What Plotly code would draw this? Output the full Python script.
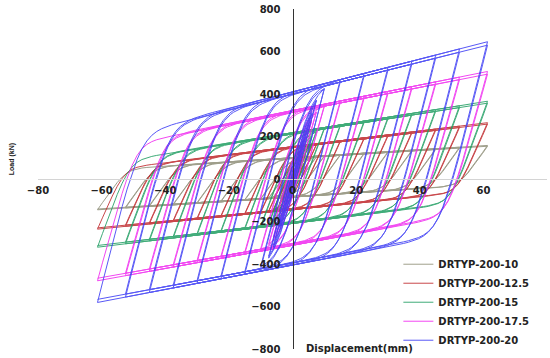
import numpy as np
import plotly.graph_objects as go

# Cyclic displacement protocol (mm), each amplitude applied twice
AMPLITUDES_MM = [2.0, 4.0, 6.0, 7.5, 10.0, 15.0, 22.5, 30.0, 37.5, 45.0, 52.5, 61.3]
CYCLE_STRENGTH = [1.0, 0.975]   # second cycle at the same amplitude is slightly weaker

SERIES = ["DRTYP-200-10", "DRTYP-200-12.5", "DRTYP-200-15", "DRTYP-200-17.5", "DRTYP-200-20"]
COLORS = ["#8f8f78", "#c0282c", "#1f9e62", "#f028f0", "#3c3cf5"]

# Elastic (unloading / reloading) stiffness, kN/mm
STIFFNESS = [22, 35, 42, 55, 60]
# Upper bounding line: load at 0 mm and at +61.3 mm (kN)
UPPER_AT_ZERO = [100, 152, 218, 322, 410]
UPPER_AT_MAX = [158, 265, 366, 506, 646]
# Lower bounding line: load at 0 mm and at -61.3 mm (kN)
LOWER_AT_ZERO = [-85, -144, -209, -312, -405]
LOWER_AT_MIN = [-145, -236, -321, -479, -581]
# Rounding of the yield knee (kN)
KNEE = [38, 58, 80, 110, 140]


def loop_path(k, u0, umax, l0, lmin, s, n=80):
    d_end = AMPLITUDES_MM[-1]
    us = (umax - u0) / d_end
    ls = (l0 - lmin) / d_end
    xs_all, ys_all = [0.0], [0.0]
    xc, yc = 0.0, 0.0
    for a in AMPLITUDES_MM:
        for f in CYCLE_STRENGTH:
            # loading towards +a, bounded by the upper line
            x = np.linspace(xc, a, n)
            e = yc + k * (x - xc)
            u = f * (u0 + us * x)
            y = -s * np.logaddexp(-e / s, -u / s)
            xs_all.extend(x[1:]); ys_all.extend(y[1:])
            xc, yc = a, y[-1]
            # loading towards -a, bounded by the lower line
            x = np.linspace(xc, -a, n)
            e = yc + k * (x - xc)
            lo = f * (l0 + ls * x)
            y = s * np.logaddexp(e / s, lo / s)
            xs_all.extend(x[1:]); ys_all.extend(y[1:])
            xc, yc = -a, y[-1]
    return np.array(xs_all), np.array(ys_all)


fig = go.Figure()
for i, name in enumerate(SERIES):
    x, y = loop_path(STIFFNESS[i], UPPER_AT_ZERO[i], UPPER_AT_MAX[i],
                     LOWER_AT_ZERO[i], LOWER_AT_MIN[i], KNEE[i])
    fig.add_trace(go.Scatter(
        x=x, y=y, mode="lines", name=name,
        line=dict(color=COLORS[i], width=1),
        opacity=0.85,
    ))

tick_font = dict(family="DejaVu Sans", size=10, color="#222222", weight="bold")

fig.update_layout(
    width=550, height=358,
    margin=dict(l=38, r=3, t=9, b=5),
    paper_bgcolor="white", plot_bgcolor="white",
    showlegend=True,
    legend=dict(
        x=0.708, y=0.292, xanchor="left", yanchor="top",
        bgcolor="rgba(255,255,255,0)",
        font=dict(family="DejaVu Sans", size=10, color="#222222", weight="bold"),
    ),
    xaxis=dict(
        range=[-80, 80], tickvals=[-80, -60, -40, -20, 0, 20, 40, 60, 80],
        showgrid=False, zeroline=False,
        showline=True, linecolor="#d4d4d4", linewidth=1,
        anchor="free", position=0.5,
        ticks="outside", ticklen=2, tickcolor="rgba(0,0,0,0)",
        tickfont=tick_font,
    ),
    yaxis=dict(
        range=[-800, 800], tickvals=[-800, -600, -400, -200, 0, 200, 400, 600, 800],
        showgrid=False, zeroline=False,
        showline=True, linecolor="#333333", linewidth=1,
        anchor="free", position=0.5,
        ticks="outside", ticklen=10, tickcolor="rgba(0,0,0,0)",
        tickfont=tick_font,
    ),
    annotations=[
        dict(text="Displacement(mm)", xref="paper", yref="paper",
             x=(359 - 38) / 509, y=(353 - 352) / 344, xanchor="center", yanchor="middle",
             showarrow=False,
             font=dict(family="DejaVu Sans", size=10, color="#222222", weight="bold")),
        dict(text="Load (kN)", xref="paper", yref="paper",
             x=(12 - 38) / 509, y=(353 - 161) / 344, xanchor="center", yanchor="middle",
             textangle=-90, showarrow=False,
             font=dict(family="Liberation Sans", size=7, color="#222222", weight="bold")),
    ],
)

fig.write_html("out.html")
